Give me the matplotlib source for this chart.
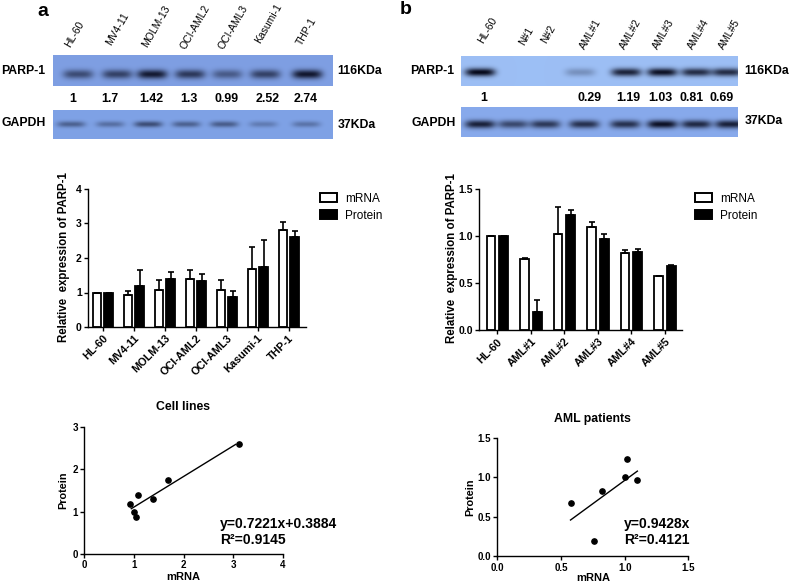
"""Western blots, relative PARP-1 expression bars and mRNA/protein correlation."""
import numpy as np
import matplotlib
matplotlib.use("Agg")
import matplotlib.pyplot as plt
from matplotlib.patches import Patch

plt.rcParams["font.family"] = ["Liberation Sans", "DejaVu Sans"]

W, H = 790, 584

# cell lines (a)
lines_blot = ["HL-60", "MV4-11", "MOLM-13", "OCI-AML2", "OCI-AML3", "Kasumi-1", "THP-1"]
lines_ratio = ["1", "1.7", "1.42", "1.3", "0.99", "2.52", "2.74"]
lines_parp = [0.55, 0.62, 0.88, 0.68, 0.45, 0.62, 0.9]
lines_gapdh = [0.42, 0.33, 0.55, 0.42, 0.45, 0.25, 0.3]
lines_mrna = [1, 0.92, 1.08, 1.4, 1.08, 1.68, 2.8]
lines_mrna_top = [1, 1.03, 1.37, 1.65, 1.35, 2.32, 3.05]
lines_prot = [1, 1.18, 1.4, 1.32, 0.88, 1.74, 2.62]
lines_prot_top = [1, 1.65, 1.6, 1.55, 1.03, 2.52, 2.78]
lines_sc_x = [0.92, 1, 1.08, 1.05, 1.39, 1.68, 3.12]
lines_sc_y = [1.18, 1, 1.39, 0.87, 1.31, 1.74, 2.6]
lines_fit_x = [0.95, 3.05]
lines_fit_y = [1.07, 2.59]

# patients (b)
pat_blot = ["HL-60", "N#1", "N#2", "AML#1", "AML#2", "AML#3", "AML#4", "AML#5"]
pat_ratio = ["1", "0.29", "1.19", "1.03", "0.81", "0.69"]
pat_parp = [1.0, 0, 0, 0.25, 0.85, 0.95, 0.8, 0.8]
pat_gapdh = [0.85, 0.6, 0.7, 0.75, 0.75, 0.95, 0.8, 0.85]
pat_names = ["HL-60", "AML#1", "AML#2", "AML#3", "AML#4", "AML#5"]
pat_mrna = [1, 0.76, 1.02, 1.1, 0.82, 0.575]
pat_mrna_top = [1, 0.77, 1.31, 1.15, 0.85, 0.575]
pat_prot = [1, 0.19, 1.23, 0.97, 0.83, 0.68]
pat_prot_top = [1, 0.32, 1.28, 1.02, 0.86, 0.69]
pat_sc_x = [0.575, 0.76, 0.82, 1, 1.02, 1.1]
pat_sc_y = [0.68, 0.2, 0.83, 1, 1.23, 0.97]
pat_fit_x = [0.575, 1.1]
pat_fit_y = [0.46, 1.08]


def px_axes(left, top, right, bottom):
    return fig.add_axes([left / W, 1 - bottom / H, (right - left) / W, (bottom - top) / H])


def blot(left, top, right, bottom, lanes, strength, halfw, bg, yc, thick):
    # lanes are pixel centres across the strip, one soft band per lane
    ax = px_axes(left, top, right, bottom)
    xx, yy = np.meshgrid(np.arange(left, right, 0.5), np.arange(top, bottom, 0.5))
    dark = np.zeros_like(xx)
    for cx, s in zip(lanes, strength):
        dark += s * np.exp(-((xx - cx) / halfw) ** 4 - ((yy - yc) / thick) ** 2)
    dark = np.clip(dark, 0, 1)[..., None]
    rgb = np.array(matplotlib.colors.to_rgb(bg)) * (1 - dark) + np.array([0.02, 0.03, 0.1]) * dark
    ax.imshow(rgb, aspect="auto", interpolation="bilinear")
    ax.axis("off")


def bars(box, names, mrna, mrna_top, prot, prot_top, ylim, yticks, fmt, offset, width, xlim, ylabel_x):
    ax = px_axes(*box)
    x = np.arange(len(names))
    ax.bar(x - offset, mrna, width, color="white", edgecolor="black", linewidth=1.3)
    ax.bar(x + offset, prot, width, color="black", edgecolor="black", linewidth=1.3)
    ax.errorbar(x - offset, mrna, yerr=[np.zeros(len(x)), np.array(mrna_top) - np.array(mrna)],
                fmt="none", ecolor="black", elinewidth=1.2, capsize=2, capthick=1.2)
    ax.errorbar(x + offset, prot, yerr=[np.zeros(len(x)), np.array(prot_top) - np.array(prot)],
                fmt="none", ecolor="black", elinewidth=1.2, capsize=2, capthick=1.2)
    ax.set_xlim(*xlim)
    ax.set_ylim(*ylim)
    ax.set_xticks(x)
    ax.set_xticklabels(names, rotation=45, ha="right", rotation_mode="anchor", fontsize=7.8, fontweight="bold")
    ax.set_yticks(yticks)
    ax.set_yticklabels([fmt % v for v in yticks], fontsize=7.5, fontweight="bold")
    style(ax)
    ax.set_ylabel("Relative  expression of PARP-1", fontsize=8.3, fontweight="bold")
    ax.yaxis.set_label_coords((ylabel_x - box[0]) / (box[2] - box[0]), 0.51)
    return ax


def style(ax):
    ax.spines["top"].set_visible(False)
    ax.spines["right"].set_visible(False)
    ax.spines["left"].set_linewidth(1)
    ax.spines["bottom"].set_linewidth(1)
    ax.tick_params(width=1, length=3, pad=1.5)


def scatter(box, xs, ys, fit_x, fit_y, lim_x, lim_y, xt, yt, fmt, title, title_y, xlab_y, ylab_x):
    ax = px_axes(*box)
    ax.plot(fit_x, fit_y, color="black", lw=1)
    ax.plot(xs, ys, "o", color="black", ms=3.8, clip_on=False)
    ax.set_xlim(*lim_x)
    ax.set_ylim(*lim_y)
    ax.set_xticks(xt)
    ax.set_xticklabels([fmt % v for v in xt], fontsize=7, fontweight="bold")
    ax.set_yticks(yt)
    ax.set_yticklabels([fmt % v for v in yt], fontsize=7, fontweight="bold")
    style(ax)
    ax.set_xlabel("mRNA", fontsize=8, fontweight="bold")
    ax.set_ylabel("Protein", fontsize=7.8, fontweight="bold")
    ax.xaxis.set_label_coords(0.5, -(xlab_y - box[3]) / (box[3] - box[1]))
    ax.yaxis.set_label_coords((ylab_x - box[0]) / (box[2] - box[0]), 0.5)
    fig.text((box[0] + box[2]) / 2 / W, 1 - title_y / H, title, fontsize=8.8, fontweight="bold", ha="center", va="center")
    return ax


def note(x, y, s, **kw):
    fig.text(x / W, 1 - y / H, s, **kw)


def legend(x, y):
    handles = [Patch(facecolor="white", edgecolor="black", linewidth=1.4, label="mRNA"),
               Patch(facecolor="black", edgecolor="black", linewidth=1.4, label="Protein")]
    fig.legend(handles=handles, loc="upper left", bbox_to_anchor=(x / W, 1 - y / H), frameon=False,
               fontsize=8.5, handlelength=1.4, handleheight=0.8, handletextpad=0.7, labelspacing=0.4,
               borderpad=0, borderaxespad=0)


fig = plt.figure(figsize=(W / 100, H / 100), dpi=100)

# blots
blot(53, 55, 333, 86, [78, 117, 152, 190, 227, 265, 307], lines_parp, 15, "#7f9fe3", 74, 4.5)
blot(53, 110, 333, 139, [71, 110, 148, 186, 224, 263, 306], lines_gapdh, 14, "#7fa2e6", 124, 3)
blot(461, 56, 738, 86, [480, 525, 545, 580, 626, 662, 696, 727], pat_parp, 15, "#9dbff5", 72, 4)
blot(461, 107, 738, 137, [480, 513, 545, 584, 625, 662, 696, 730], pat_gapdh, 15, "#88aaec", 124, 4)

a_start = [(68, 47), (109, 45), (145, 46), (183, 48), (221, 49), (258, 43), (299, 44)]
for s, (x, y) in zip(lines_blot, a_start):
    note(x, y, s, rotation=60, rotation_mode="anchor", ha="left", va="center", fontsize=7.5)
b_start = [(481, 42), (522, 45), (544, 43), (582, 48), (622, 48), (655, 48), (690, 48), (721, 48)]
for s, (x, y) in zip(pat_blot, b_start):
    note(x, y, s, rotation=60, rotation_mode="anchor", ha="left", va="center", fontsize=7.5)

for s, x in zip(lines_ratio, [73, 110, 151, 189, 227, 268, 306]):
    note(x, 99, s, ha="center", va="center", fontsize=8.9, fontweight="bold")
for s, x in zip(pat_ratio, [484, 590, 628, 660, 692, 722]):
    note(x, 98, s, ha="center", va="center", fontsize=8.9, fontweight="bold")

lab = dict(va="center", fontsize=8.8, fontweight="bold")
note(1, 71, "PARP-1", **lab)
note(1, 123, "GAPDH", **lab)
note(337, 71, "116KDa", **lab)
note(338, 125, "37KDa", **lab)
note(410, 71, "PARP-1", **lab)
note(411, 123, "GAPDH", **lab)
note(744, 71, "116KDa", **lab)
note(745, 121, "37KDa", **lab)
note(37, 11, "a", va="center", fontsize=14, fontweight="bold")
note(400, 10, "b", va="center", fontsize=14, fontweight="bold")

# bars
bars((88, 189, 306, 327), lines_blot, lines_mrna, lines_mrna_top, lines_prot, lines_prot_top,
     (0, 4), [0, 1, 2, 3, 4], "%d", 0.19, 0.27, (-0.474, 6.56), 70)
bars((479.3, 189.3, 682, 330.3), pat_names, pat_mrna, pat_mrna_top, pat_prot, pat_prot_top,
     (0, 1.5), [0, 0.5, 1.0, 1.5], "%.1f", 0.19, 0.26, (-0.54, 5.51), 458)
legend(320, 193)
legend(695, 193)

# correlation
scatter((84, 427, 283, 554), lines_sc_x, lines_sc_y, lines_fit_x, lines_fit_y, (0, 4), (0, 3),
        [0, 1, 2, 3, 4], [0, 1, 2, 3], "%d", "Cell lines", 407, 572, 68)
scatter((497.3, 438, 688.3, 556.3), pat_sc_x, pat_sc_y, pat_fit_x, pat_fit_y, (0, 1.5), (0, 1.5),
        [0, 0.5, 1.0, 1.5], [0, 0.5, 1.0, 1.5], "%.1f", "AML patients", 419, 573, 475)
eq = dict(va="center", fontsize=10, fontweight="bold")
note(220, 524, "y=0.7221x+0.3884", **eq)
note(220, 540, "R²=0.9145", **eq)
note(624, 524, "y=0.9428x", **eq)
note(624, 540, "R²=0.4121", **eq)

fig.savefig("out.png", dpi=100)
